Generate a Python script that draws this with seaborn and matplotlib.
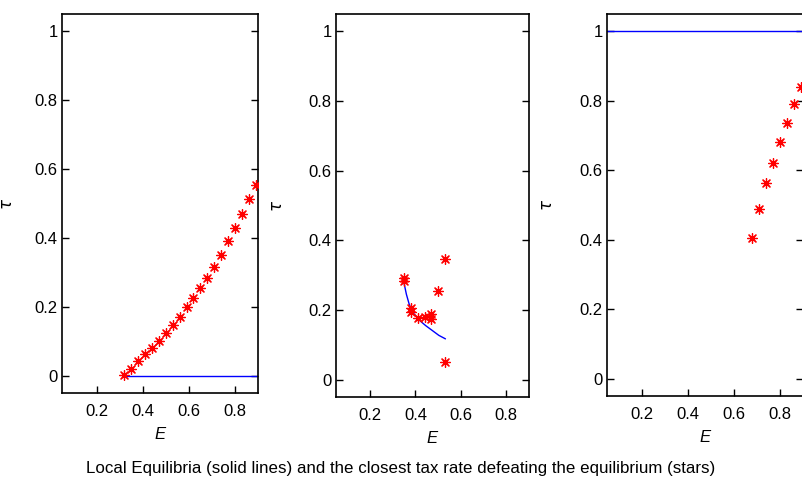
import numpy as np
import pandas as pd
import matplotlib
matplotlib.use("Agg")
import matplotlib.pyplot as plt
import seaborn as sns

# ---- data ----
# panel 1
E_star1 = [0.32, 0.35, 0.38, 0.41, 0.44, 0.47, 0.50, 0.53, 0.56, 0.59,
           0.62, 0.65, 0.68, 0.71, 0.74, 0.77, 0.80, 0.83, 0.86, 0.89]
tau_star1 = [0.003, 0.021, 0.043, 0.062, 0.080, 0.101, 0.125, 0.148, 0.171, 0.200,
             0.225, 0.254, 0.285, 0.317, 0.351, 0.391, 0.428, 0.469, 0.514, 0.553]
E_eq1 = [0.32, 0.90]
tau_eq1 = [0.0, 0.0]

# panel 2
E_star2 = [0.35, 0.35, 0.38, 0.38, 0.41, 0.44, 0.47, 0.47, 0.50, 0.53, 0.53]
tau_star2 = [0.293, 0.283, 0.205, 0.194, 0.178, 0.180, 0.187, 0.175, 0.255, 0.347, 0.050]
E_eq2 = [0.349, 0.360, 0.373, 0.392, 0.416, 0.445, 0.474, 0.503, 0.532]
tau_eq2 = [0.279, 0.245, 0.215, 0.190, 0.171, 0.155, 0.141, 0.127, 0.117]

# panel 3
E_star3 = [0.68, 0.71, 0.74, 0.77, 0.80, 0.83, 0.86, 0.89]
tau_star3 = [0.405, 0.488, 0.562, 0.621, 0.680, 0.735, 0.790, 0.840]
E_eq3 = [0.0, 1.0]
tau_eq3 = [1.0, 1.0]

xticks = [0.2, 0.4, 0.6, 0.8]
yticks = [0, 0.2, 0.4, 0.6, 0.8, 1]
ytick_labels = ["0", "0.2", "0.4", "0.6", "0.8", "1"]

title = "Local Equilibria (solid lines) and the closest tax rate defeating the equilibrium (stars)"

sns.set_theme(style="white")
plt.rcParams['font.family'] = ['Liberation Sans', 'DejaVu Sans']
plt.rcParams['axes.unicode_minus'] = False
plt.rcParams['text.color'] = 'black'
plt.rcParams['axes.labelcolor'] = 'black'

W, H = 802, 487
fig = plt.figure(figsize=(W / 100, H / 100), dpi=100)

# axes boxes in pixels: left, top, right, bottom
boxes = [(62, 14, 258, 393), (336, 14, 529, 397), (607, 14, 803, 396)]
panels = [
    (E_star1, tau_star1, E_eq1, tau_eq1),
    (E_star2, tau_star2, E_eq2, tau_eq2),
    (E_star3, tau_star3, E_eq3, tau_eq3),
]
ylab_x = [-0.24, -0.265, -0.265]

for (l, t, r, b), (xs, ys, xe, ye), lx in zip(boxes, panels, ylab_x):
    ax = fig.add_axes([l / W, 1 - b / H, (r - l) / W, (b - t) / H])

    sns.lineplot(x=xe, y=ye, ax=ax, color="#0000ff", lw=1.0,
                 sort=False, estimator=None)
    sns.scatterplot(x=xs, y=ys, ax=ax, marker=(8, 2, 0), s=50,
                    color="#ff0000", edgecolor=None, linewidth=0.9, zorder=3)

    ax.set_xlim(0.05, 0.9)
    ax.set_ylim(-0.05, 1.05)
    ax.set_xticks(xticks)
    ax.set_xticklabels([f"{v:.1f}" for v in xticks])
    ax.set_yticks(yticks)
    ax.set_yticklabels(ytick_labels)

    ax.tick_params(axis="x", direction="in", length=5, width=1, pad=8,
                   labelsize=12, colors="black", bottom=True, top=False)
    ax.tick_params(axis="y", direction="in", length=5, width=1, pad=3,
                   labelsize=12, colors="black", left=True, right=True)
    for sp in ax.spines.values():
        sp.set_visible(True)
        sp.set_color("black")
        sp.set_linewidth(1.2)

    ax.set_xlabel("E", fontsize=12, style="italic")
    ax.set_ylabel(r"$\tau$", fontsize=12)
    ax.xaxis.set_label_coords(0.5, -0.09)
    ax.yaxis.set_label_coords(lx, 0.5)

fig.text(0.5, 1 - 469 / H, title, ha="center", va="center", fontsize=12.2)

fig.savefig("out.png", dpi=100)
